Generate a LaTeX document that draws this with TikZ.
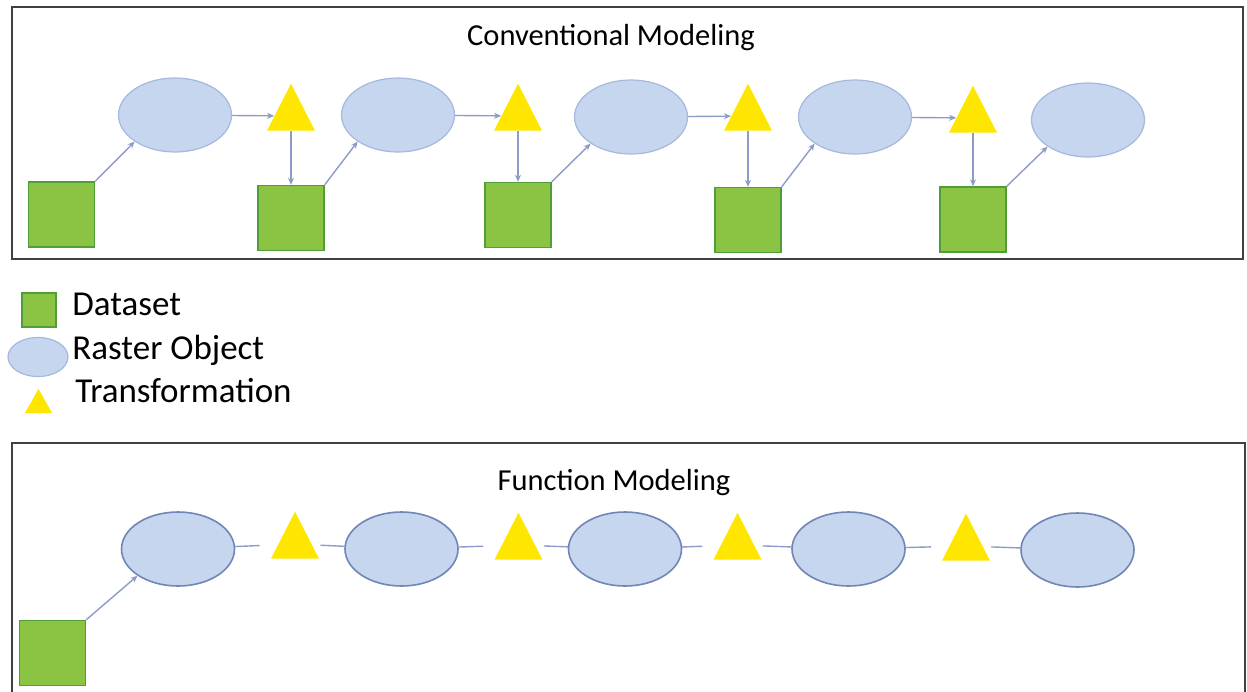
\documentclass[tikz,border=0pt]{standalone}
\usepackage{fontspec}
\setmainfont{Carlito}
\usetikzlibrary{shapes.geometric,arrows.meta}

\definecolor{rasterfill}{RGB}{198,214,239}
\definecolor{rasterline}{RGB}{165,185,222}
\definecolor{rasterdark}{RGB}{112,134,180}
\definecolor{datafill}{RGB}{139,195,66}
\definecolor{dataline}{RGB}{80,158,56}
\definecolor{transfill}{RGB}{255,230,0}
\definecolor{linkcol}{RGB}{140,155,200}
\definecolor{framecol}{RGB}{64,64,64}

\tikzset{every picture/.style={line width=0.75pt}}
\tikzset{
  raster/.style={ellipse,fill=rasterfill,draw=rasterline,line width=1.2pt,inner sep=0pt,minimum width=113pt,minimum height=74pt},
  rasterfn/.style={raster,draw=rasterdark,line width=1.6pt},
  dataset/.style={rectangle,fill=datafill,draw=dataline,line width=1.4pt,inner sep=0pt,minimum width=66pt,minimum height=65pt},
  trans/.style={isosceles triangle,isosceles triangle stretches,shape border rotate=90,fill=transfill,inner sep=0pt,minimum width=48pt,minimum height=47pt},
  link/.style={draw=linkcol,line width=1.4pt,-{Stealth[length=7pt,width=6pt]}},
  plainlink/.style={draw=linkcol,line width=1.4pt},
  frame/.style={draw=framecol,line width=2.6pt}
}

\begin{document}
\begin{tikzpicture}[x=1pt,y=1pt,yscale=-1,xscale=1]
\useasboundingbox (0,0) rectangle (1247,691);

%Frames
\draw [frame] (12,7) rectangle (1243,259);
\draw [frame] (12,443) rectangle (1245,700);

% Text Node
\node [anchor=base,font=\fontsize{30.5}{34}\selectfont] (convtitle) at (611,45) {Conventional Modeling};
% Text Node
\node [anchor=base,font=\fontsize{30.5}{34}\selectfont] (functitle) at (614,490) {Function Modeling};

%Conventional row: raster objects
\node [raster] (e1) at (175,115) {};
\node [raster] (e2) at (398,115) {};
\node [raster] (e3) at (631,117) {};
\node [raster] (e4) at (855,117) {};
\node [raster] (e5) at (1088,120) {};
%Conventional row: transformations
\node [trans] (t1) at (291,116) {};
\node [trans] (t2) at (518,116) {};
\node [trans] (t3) at (748,116) {};
\node [trans] (t4) at (973,118) {};
%Conventional row: datasets
\node [dataset] (s0) at (61.5,214.5) {};
\node [dataset] (s1) at (291,218) {};
\node [dataset] (s2) at (518,215) {};
\node [dataset] (s3) at (748,220) {};
\node [dataset] (s4) at (973,219.5) {};

%Conventional row: links
\draw [link] (s0.north east) -- (e1.south west);
\draw [link] (e1) -- (t1);
\draw [link] (t1) -- (s1);
\draw [link] (s1.north east) -- (e2.south west);
\draw [link] (e2) -- (t2);
\draw [link] (t2) -- (s2);
\draw [link] (s2.north east) -- (e3.south west);
\draw [link] (e3) -- (t3);
\draw [link] (t3) -- (s3);
\draw [link] (s3.north east) -- (e4.south west);
\draw [link] (e4) -- (t4);
\draw [link] (t4) -- (s4);
\draw [link] (s4.north east) -- (e5.south west);

%Legend
\node [dataset,minimum width=34pt,minimum height=34pt] (legdata) at (39,310) {};
\node [raster,minimum width=60pt,minimum height=39pt] (legraster) at (38,357) {};
\node [trans,minimum width=27pt,minimum height=24pt] (legtrans) at (38.5,405) {};
% Text Node
\node [anchor=base west,font=\fontsize{35}{40}\selectfont,inner sep=0pt] (legdatatext) at (72,315) {Dataset};
% Text Node
\node [anchor=base west,font=\fontsize{35}{40}\selectfont,inner sep=0pt] (legrastertext) at (72,359) {Raster Object};
% Text Node
\node [anchor=base west,font=\fontsize{35}{40}\selectfont,inner sep=0pt] (legtranstext) at (75,402) {Transformation};

%Function row: raster objects
\node [rasterfn] (f1) at (178,549) {};
\node [rasterfn] (f2) at (401.5,549) {};
\node [rasterfn] (f3) at (625,549) {};
\node [rasterfn] (f4) at (848.5,549) {};
\node [rasterfn] (f5) at (1077.5,550) {};
%Function row: transformations
\node [trans] (g1) at (295,544) {};
\node [trans] (g2) at (518.5,545) {};
\node [trans] (g3) at (737.5,545) {};
\node [trans] (g4) at (966,546) {};
%Function row: dataset
\node [dataset] (sq) at (52.5,653) {};

%Function row: links
\draw [link] (sq.north east) -- (f1.south west);
\draw [plainlink,shorten >=18pt] (f1) -- (g1);
\draw [plainlink,shorten <=8pt] (g1) -- (f2);
\draw [plainlink,shorten >=18pt] (f2) -- (g2);
\draw [plainlink,shorten <=8pt] (g2) -- (f3);
\draw [plainlink,shorten >=18pt] (f3) -- (g3);
\draw [plainlink,shorten <=8pt] (g3) -- (f4);
\draw [plainlink,shorten >=18pt] (f4) -- (g4);
\draw [plainlink,shorten <=8pt] (g4) -- (f5);

\end{tikzpicture}
\end{document}
